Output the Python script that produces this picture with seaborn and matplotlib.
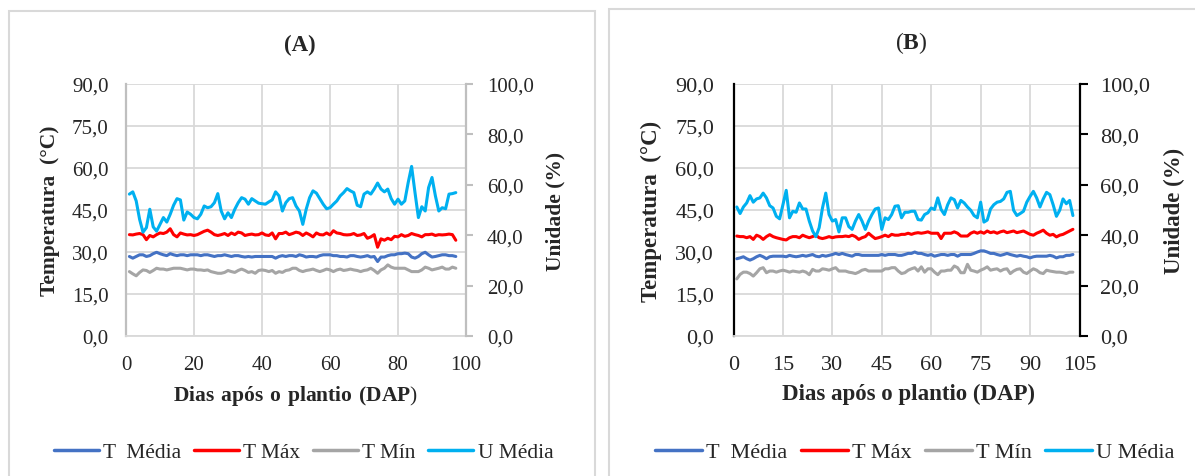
import matplotlib
matplotlib.use("Agg")
import matplotlib.pyplot as plt
import seaborn as sns
from matplotlib.patches import Rectangle
from matplotlib.lines import Line2D
from matplotlib.ticker import FuncFormatter

sns.set_style("white")
plt.rcParams['font.family'] = ['Liberation Serif', 'DejaVu Serif']
plt.rcParams['mathtext.fontset'] = 'custom'
plt.rcParams['mathtext.rm'] = 'Liberation Serif'
plt.rcParams['mathtext.bf'] = 'Liberation Serif:bold'

# ---- dados ----
dias_a = list(range(1, 98))
tmed_a = [28.4, 27.8, 28.4, 29.0, 29.0, 28.4, 28.7, 29.4, 29.9, 29.4,
          29.0, 28.7, 29.4, 29.0, 28.7, 29.0, 29.0, 28.7, 29.0, 29.0,
          29.0, 28.7, 29.0, 29.0, 28.7, 28.4, 28.7, 28.7, 29.0, 28.7,
          28.4, 28.7, 28.7, 28.4, 28.2, 28.4, 28.2, 28.4, 28.4, 28.4,
          28.4, 28.4, 28.4, 27.8, 28.4, 28.7, 28.4, 28.7, 28.7, 28.4,
          29.0, 28.7, 28.2, 28.4, 28.4, 28.2, 28.7, 29.0, 29.0, 29.0,
          28.7, 28.7, 28.4, 28.4, 28.2, 28.7, 28.7, 28.4, 28.2, 28.4,
          28.7, 28.2, 28.4, 26.6, 28.2, 28.2, 28.7, 29.0, 29.0, 29.4,
          29.4, 29.6, 29.4, 28.2, 27.8, 28.4, 29.4, 29.9, 29.0, 28.2,
          28.4, 28.7, 29.0, 29.0, 28.7, 28.7, 28.4]
tmax_a = [36.2, 36.1, 36.4, 36.6, 36.2, 34.4, 35.9, 35.4, 36.2, 36.8,
          36.6, 37.1, 38.3, 36.2, 35.4, 36.8, 36.4, 36.1, 36.2, 35.9,
          36.2, 36.8, 37.4, 37.8, 37.1, 36.2, 35.9, 36.2, 36.6, 35.9,
          36.8, 36.2, 37.1, 36.8, 35.9, 36.2, 36.4, 36.1, 36.2, 36.8,
          36.1, 35.9, 36.8, 34.7, 36.6, 36.6, 37.1, 36.2, 36.6, 37.1,
          36.8, 35.9, 36.8, 36.2, 35.4, 36.8, 36.2, 36.1, 36.8, 36.1,
          37.6, 36.8, 36.6, 36.2, 36.1, 36.2, 36.6, 35.9, 36.1, 36.6,
          34.9, 35.4, 36.2, 31.7, 34.7, 34.2, 34.9, 34.4, 35.6, 35.4,
          36.2, 35.6, 35.9, 36.6, 36.2, 35.9, 35.4, 36.2, 36.2, 36.4,
          35.9, 36.2, 36.1, 36.2, 36.4, 36.2, 34.2]
tmin_a = [23.0, 22.2, 21.5, 22.7, 23.6, 23.4, 22.7, 23.4, 24.2, 23.9,
          23.9, 23.6, 23.9, 24.2, 24.2, 24.2, 23.9, 23.6, 23.9, 23.9,
          23.6, 23.6, 23.4, 23.6, 23.0, 22.7, 22.4, 22.4, 22.7, 23.4,
          23.0, 22.7, 23.4, 23.9, 23.4, 22.7, 23.0, 22.4, 23.4, 23.6,
          23.4, 23.0, 23.4, 22.4, 23.0, 22.7, 23.4, 23.6, 24.2, 24.2,
          23.4, 23.0, 23.4, 23.6, 23.9, 23.4, 23.0, 23.4, 23.9, 23.6,
          23.0, 23.6, 23.9, 23.4, 23.6, 23.9, 23.6, 23.4, 23.0, 23.4,
          23.6, 24.2, 23.4, 22.4, 23.6, 24.2, 25.4, 24.6, 24.2, 24.2,
          24.2, 24.2, 23.6, 23.0, 23.0, 23.0, 23.6, 24.6, 24.2, 23.6,
          23.9, 24.2, 24.6, 23.9, 23.9, 24.6, 24.2]
umed_a = [56.3, 57.2, 53.6, 46.3, 41.2, 43.0, 50.3, 43.3, 41.6, 44.3,
          47.0, 45.2, 48.3, 51.9, 54.5, 54.0, 46.0, 49.2, 48.3, 47.0,
          46.5, 48.3, 51.6, 50.9, 51.3, 52.9, 56.5, 49.6, 46.5, 48.9,
          47.0, 50.3, 52.9, 54.9, 54.3, 52.3, 54.5, 53.6, 52.7, 52.5,
          52.3, 53.2, 54.0, 57.2, 55.6, 49.6, 52.9, 54.5, 54.9, 51.6,
          49.6, 44.3, 50.3, 54.9, 57.6, 56.7, 54.5, 52.3, 50.5, 50.9,
          52.3, 53.6, 55.6, 56.9, 58.5, 57.6, 56.9, 51.9, 51.3, 56.3,
          57.2, 56.3, 58.3, 60.7, 58.3, 57.2, 58.3, 54.5, 52.3, 54.3,
          52.3, 53.6, 60.9, 67.3, 56.9, 47.0, 51.3, 49.6, 58.9, 62.9,
          55.6, 49.6, 50.9, 50.5, 56.3, 56.5, 56.9]

dias_b = list(range(1, 104))
tmed_b = [27.6, 27.9, 28.3, 27.6, 27.1, 27.6, 28.3, 28.8, 28.3, 27.6,
          28.3, 28.5, 28.5, 28.5, 28.5, 28.3, 28.8, 28.5, 28.3, 28.5,
          28.8, 28.5, 28.8, 29.1, 28.5, 28.3, 28.8, 28.5, 28.8, 29.1,
          29.5, 29.1, 29.5, 29.1, 28.8, 28.5, 29.1, 29.1, 28.8, 28.8,
          28.8, 28.8, 28.8, 28.8, 29.1, 28.8, 29.1, 29.1, 29.1, 28.8,
          28.8, 29.1, 29.5, 29.5, 30.0, 29.5, 29.5, 29.1, 28.8, 29.1,
          28.5, 28.8, 29.1, 29.1, 28.8, 29.1, 29.1, 28.5, 29.1, 29.1,
          29.1, 29.1, 29.5, 30.0, 30.4, 30.4, 30.0, 29.5, 29.5, 29.1,
          28.8, 29.1, 29.5, 29.1, 28.8, 28.5, 28.8, 28.5, 28.3, 27.9,
          28.3, 28.5, 28.5, 28.5, 28.5, 28.8, 28.5, 27.9, 28.3, 28.3,
          28.8, 28.8, 29.1]
tmax_b = [35.7, 35.5, 35.5, 35.1, 35.5, 34.5, 36.0, 35.5, 34.5, 35.5,
          36.2, 35.5, 35.1, 34.8, 34.5, 34.3, 35.1, 35.5, 35.5, 35.1,
          36.0, 35.5, 35.1, 35.5, 36.0, 35.1, 34.8, 35.1, 35.5, 35.1,
          35.4, 35.5, 35.5, 35.7, 35.5, 36.0, 35.5, 34.5, 35.1, 35.5,
          36.7, 35.7, 34.8, 35.1, 35.5, 36.0, 35.5, 36.3, 36.0, 36.0,
          36.3, 36.3, 36.7, 36.3, 36.7, 36.9, 36.7, 36.9, 37.2, 36.7,
          36.7, 36.7, 34.8, 36.7, 36.7, 36.7, 37.2, 36.7, 35.7, 35.7,
          35.7, 36.7, 37.2, 36.7, 37.2, 36.7, 37.5, 36.9, 37.2, 36.7,
          37.2, 37.5, 36.9, 37.2, 37.5, 36.9, 37.2, 37.5, 36.9, 36.3,
          36.0, 36.7, 37.2, 37.8, 36.7, 36.0, 36.3, 35.4, 36.0, 36.3,
          36.9, 37.5, 38.1]
tmin_b = [20.4, 22.0, 22.8, 22.8, 22.3, 21.4, 22.6, 24.0, 24.4, 22.6,
          23.2, 23.2, 22.8, 23.2, 23.5, 23.2, 22.8, 23.2, 23.0, 22.8,
          23.2, 22.8, 21.9, 23.8, 23.2, 23.2, 24.0, 23.8, 23.5, 24.0,
          24.4, 23.2, 23.2, 23.2, 22.8, 22.6, 22.3, 22.8, 23.5, 23.8,
          23.2, 23.2, 23.2, 23.2, 23.2, 24.0, 24.0, 24.4, 24.4, 23.2,
          22.3, 22.6, 23.5, 24.0, 24.4, 23.2, 24.7, 22.8, 24.0, 24.0,
          22.8, 21.9, 23.2, 23.2, 23.5, 23.5, 25.0, 24.4, 22.6, 22.6,
          25.6, 23.5, 23.2, 22.8, 23.5, 24.0, 24.7, 23.5, 23.8, 24.0,
          23.2, 23.8, 24.0, 22.3, 23.2, 23.8, 24.0, 22.8, 22.3, 23.2,
          24.0, 23.5, 22.6, 22.3, 23.5, 23.2, 23.0, 22.8, 22.8, 22.6,
          22.3, 22.8, 22.8]
umed_b = [51.2, 48.6, 51.2, 52.8, 55.7, 53.1, 54.4, 54.8, 56.7, 54.8,
          51.7, 50.8, 47.5, 46.5, 52.1, 57.8, 46.9, 49.5, 49.1, 52.8,
          50.4, 50.4, 45.6, 41.7, 39.4, 43.0, 50.8, 56.7, 48.2, 45.6,
          46.2, 41.3, 46.9, 46.9, 43.4, 42.3, 45.6, 48.2, 45.6, 42.3,
          45.6, 48.2, 50.4, 50.8, 42.3, 46.9, 46.2, 48.2, 51.5, 51.7,
          46.9, 49.1, 49.1, 49.5, 49.5, 46.2, 46.0, 48.2, 48.9, 50.8,
          50.2, 54.8, 50.2, 48.2, 52.1, 54.8, 54.1, 50.8, 53.8, 52.8,
          51.2, 49.9, 47.8, 46.9, 53.1, 45.2, 46.0, 50.4, 52.1, 53.1,
          53.4, 54.4, 57.0, 57.4, 49.9, 47.8, 48.6, 49.5, 53.1, 55.4,
          57.4, 54.8, 51.2, 54.4, 57.0, 56.1, 52.1, 47.5, 49.9, 54.4,
          52.5, 53.8, 47.8]

legendas = ["T  Média", "T Máx", "T Mín", "U Média"]
cores = ["#4472C4", "#FF0000", "#A5A5A5", "#00B0F0"]

yticks_temp = [0, 15, 30, 45, 60, 75, 90]
yticks_umid = [0, 20, 40, 60, 80, 100]

W, H = 1195, 477
fig = plt.figure(figsize=(W / 100, H / 100), dpi=100)

virgula = FuncFormatter(lambda v, p: f"{v:.1f}".replace(".", ","))
LW = 2.2
GRID = "#D9D9D9"


def painel(rect, dias, tmed, tmax, tmin, umed, xmax, xstep, fs,
           cor_esq, cor_dir, pads):
    ax = fig.add_axes(rect)
    ax2 = ax.twinx()
    sns.lineplot(x=dias, y=tmed, ax=ax, color=cores[0], lw=LW)
    sns.lineplot(x=dias, y=tmax, ax=ax, color=cores[1], lw=LW)
    sns.lineplot(x=dias, y=tmin, ax=ax, color=cores[2], lw=LW)
    sns.lineplot(x=dias, y=umed, ax=ax2, color=cores[3], lw=LW)

    ax.set_xlim(0, xmax)
    ax.set_xticks(list(range(0, xmax + 1, xstep)))
    ax.set_ylim(0, 90)
    ax.set_yticks(yticks_temp)
    ax.yaxis.set_major_formatter(virgula)
    ax2.set_ylim(0, 100)
    ax2.set_yticks(yticks_umid)
    ax2.yaxis.set_major_formatter(virgula)

    ax.grid(True, color=GRID, lw=1.3)
    ax.set_axisbelow(True)
    ax.tick_params(axis="x", length=0, pad=pads[0], labelsize=fs)
    ax.tick_params(axis="y", length=0, pad=pads[1], labelsize=fs)
    ax2.tick_params(axis="y", length=pads[3], width=1.5, color=cor_dir,
                    pad=pads[2], labelsize=fs, direction="out")

    for s in ["top", "right"]:
        ax.spines[s].set_visible(False)
    ax.spines["bottom"].set_color(GRID)
    ax.spines["bottom"].set_linewidth(1.3)
    ax.spines["left"].set_color(cor_esq)
    ax.spines["left"].set_linewidth(1.6)
    for s in ["top", "left", "bottom"]:
        ax2.spines[s].set_visible(False)
    ax2.spines["right"].set_color(cor_dir)
    ax2.spines["right"].set_linewidth(1.6)
    ax2.set_ylabel("")
    return ax, ax2


# painel A
axA, axA2 = painel([126 / W, 1 - 337 / H, 340 / W, 252 / H],
                   dias_a, tmed_a, tmax_a, tmin_a, umed_a, 100, 20, 15,
                   "#BFBFBF", "#BFBFBF", (14, 12.5, 10, 5))
axA.set_ylabel("Temperatura  (°C)", fontsize=15.5, fontweight="bold")
axA.yaxis.set_label_coords(-0.194, 0.5)
axA2.set_ylabel("Unidade (%)", fontsize=15.5, fontweight="bold")
axA2.yaxis.set_label_coords(1.235, 0.5)
axA.set_xlabel(r"$\mathbf{Dias\ após\ o\ plantio\ (DAP}$)", fontsize=15.5)
axA.xaxis.set_label_coords(0.5, -0.185)

# painel B
axB, axB2 = painel([733.5 / W, 1 - 337 / H, 346 / W, 252 / H],
                   dias_b, tmed_b, tmax_b, tmin_b, umed_b, 105, 15, 16,
                   "black", "black", (14, 14, 9, 6))
axB.set_ylabel("Temperatura  (°C)", fontsize=16.5, fontweight="bold")
axB.yaxis.set_label_coords(-0.208, 0.5)
axB2.set_ylabel("Unidade (%)", fontsize=16.5, fontweight="bold")
axB2.yaxis.set_label_coords(1.243, 0.5)
axB.set_xlabel("Dias após o plantio (DAP)", fontsize=16.5, fontweight="bold")
axB.xaxis.set_label_coords(0.505, -0.185)

# titulos
fig.text(300 / W, 1 - 45 / H, "(A)", fontsize=16.5, fontweight="bold",
         ha="center", va="center")
fig.text(911 / W, 1 - 43 / H, r"($\mathbf{B}$)", fontsize=17,
         ha="center", va="center")

# molduras
fig.patches.append(Rectangle((8.5 / W, -0.02), 586.5 / W, 1.02 - 12 / H,
                             transform=fig.transFigure, fill=False,
                             ec=GRID, lw=1.5))
fig.patches.append(Rectangle((608.5 / W, -0.02), 600 / W, 1.02 - 10 / H,
                             transform=fig.transFigure, fill=False,
                             ec=GRID, lw=1.5))

# legendas
handles = [Line2D([], [], color=c, lw=LW + 0.3) for c in cores]
fig.legend(handles, legendas, loc="center", ncol=4, frameon=False,
           bbox_to_anchor=(303.5 / W, 1 - 453 / H), fontsize=15.4,
           handlelength=2.1, handletextpad=0.2, columnspacing=0.6)
fig.legend(handles, legendas, loc="center", ncol=4, frameon=False,
           bbox_to_anchor=(915 / W, 1 - 453 / H), fontsize=16,
           handlelength=2.1, handletextpad=0.2, columnspacing=0.6)

fig.savefig("out.png", dpi=100)
